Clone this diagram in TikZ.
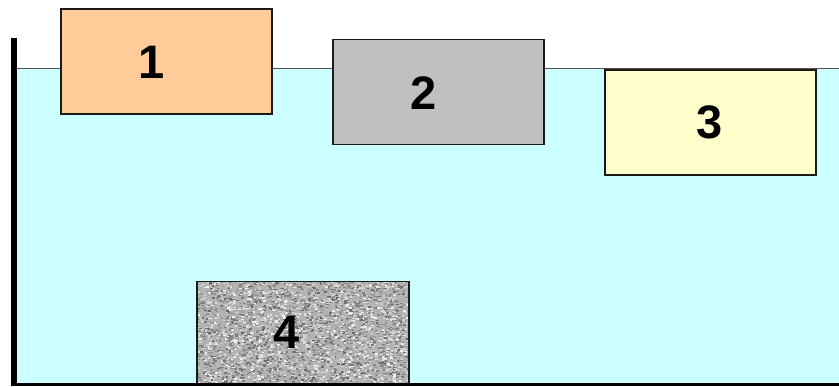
\documentclass[tikz,border=0pt]{standalone}
\usepackage{fontspec}
\setmainfont{Liberation Sans}
\definecolor{water}{HTML}{CCFFFF}
\definecolor{peach}{HTML}{FFCC99}
\definecolor{silver}{HTML}{C0C0C0}
\definecolor{cream}{HTML}{FFFFCC}
\definecolor{edge}{HTML}{1A1A1A}
\begin{document}
\begin{tikzpicture}[x=1pt,y=-1pt,
  block/.style={draw=edge,line width=1.8pt,minimum width=211pt,minimum height=105pt,inner sep=0pt,anchor=north west},
  num/.style={font=\fontsize{47}{47}\selectfont\bfseries,text=black,inner sep=0pt}]
\useasboundingbox (0,0) rectangle (839,386);
% water
\fill[water] (14,68) rectangle (839,384);
\draw[edge!75,line width=1.6pt] (14,68.5) -- (839,68.5);
% blocks
\node[block,fill=peach] (b1) at (60,8) {};
\node[block,fill=silver] (b2) at (332,38.5) {};
\node[block,fill=cream] (b3) at (604,69) {};
% granite block
\begin{scope}
  \clip (196,281) rectangle (408,384);
  \fill[black!30] (196,281) rectangle (408,384);
  \pgfmathsetseed{7}
  \foreach \i in {1,...,4500}{
    \pgfmathsetmacro\px{195+rnd*214}
    \pgfmathsetmacro\py{280+rnd*105}
    \pgfmathsetmacro\g{int(5+rnd*55)}
    \fill[black!\g!white] (\px,\py) rectangle ++(2.6,1.5);
  }
\end{scope}
\node[draw=edge,line width=1.8pt,minimum width=212pt,minimum height=104pt,inner sep=0pt,anchor=north west] (b4) at (196,280.5) {};
% labels
\node[num] (l1) at (152,62) {1};
\node[num] (l2) at (424,93) {2};
\node[num] (l3) at (710,122) {3};
\node[num] (l4) at (287,332) {4};
% container walls
\coordinate (wt) at (14,38);
\coordinate (wb) at (14,386);
\coordinate (bl) at (11,384.5);
\coordinate (br) at (839,384.5);
\draw[black,line width=6pt] (wt) -- (wb);
\draw[black,line width=3pt] (bl) -- (br);
\end{tikzpicture}
\end{document}
